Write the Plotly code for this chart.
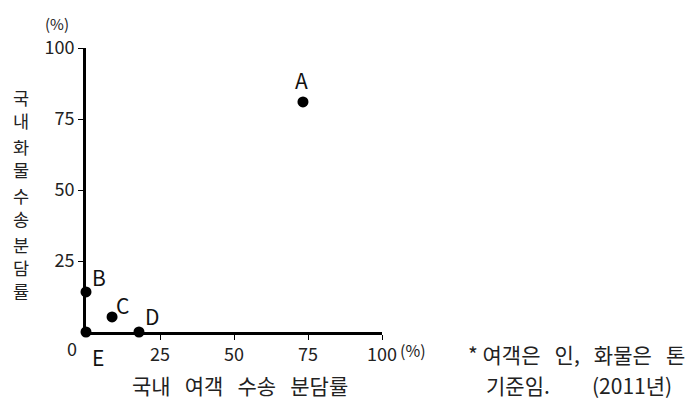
import plotly.graph_objects as go

labels = ["A", "B", "C", "D", "E"]
passenger = [73.3, 0, 8.8, 17.9, 0]
freight = [81, 14.1, 5.3, 0, 0]
tick_vals = [25, 50, 75, 100]
tick_text = ["25", "50", "75", "100"]
y_title_words = ["국내", "화물", "수송", "분담률"]
x_title_words = ["국내", "여객", "수송", "분담률"]
note_line1_words = ["여객은", "인,", "화물은", "톤"]
note_line2a = "기준임."
note_line2b = "(2011년)"

# label offsets in pixels (dx right, dy up)
label_shift = [(-1, 22), (13, 15), (10, 12), (13, 16), (12, -25)]

FONT = "Noto Sans CJK KR"
TXT = "#222"
SP = "\u00a0" * 3

# plot area in page pixels
PL, PR, PT, PB = 86, 382, 48, 332


def px(xp):
    return (xp - PL) / (PR - PL)


def py(yp):
    return (PB - yp) / (PB - PT)


fig = go.Figure()
fig.add_trace(go.Scatter(
    x=passenger, y=freight, mode="markers", cliponaxis=False,
    marker=dict(color="black", size=11),
    showlegend=False, hoverinfo="skip",
))

axis_common = dict(
    showgrid=False, zeroline=False, showline=True, linecolor="black", linewidth=2.6,
    ticks="outside", ticklen=5, tickcolor="black", tickwidth=1.3,
    tickvals=tick_vals, ticktext=tick_text,
    tickfont=dict(family=FONT, size=18, color=TXT),
)
fig.update_xaxes(range=[0, 100], **axis_common)
fig.update_yaxes(range=[0, 100], **axis_common)

ann = []
for lab, xv, yv, (dx, dy) in zip(labels, passenger, freight, label_shift):
    ann.append(dict(x=xv, y=yv, xref="x", yref="y", text=lab, showarrow=False,
                    xanchor="center", yanchor="middle", xshift=dx, yshift=dy,
                    font=dict(family=FONT, size=21, color="#111")))

ann.append(dict(x=px(72), y=py(348), xref="paper", yref="paper", text="0", showarrow=False,
                xanchor="center", yanchor="middle",
                font=dict(family=FONT, size=18, color=TXT)))
ann.append(dict(x=px(413), y=py(350), xref="paper", yref="paper", text="(%)", showarrow=False,
                xanchor="center", yanchor="middle",
                font=dict(family=FONT, size=16, color=TXT)))
ann.append(dict(x=px(57), y=py(24), xref="paper", yref="paper", text="(%)", showarrow=False,
                xanchor="center", yanchor="middle",
                font=dict(family=FONT, size=15, color=TXT)))
# vertical y title: one stacked annotation per word
word_centers = [109, 157.5, 207, 267]
for w, yc in zip(y_title_words, word_centers):
    ann.append(dict(x=px(21), y=py(yc), xref="paper", yref="paper", text="<br>".join(w),
                    showarrow=False, xanchor="center", yanchor="middle",
                    font=dict(family=FONT, size=17.5, color=TXT)))
ann.append(dict(x=px(130), y=py(385), xref="paper", yref="paper",
                text=SP.join(x_title_words), showarrow=False, xanchor="left", yanchor="middle",
                font=dict(family=FONT, size=21, color=TXT)))
ann.append(dict(x=px(466), y=py(354), xref="paper", yref="paper",
                text="*" + "\u00a0" + SP.join(note_line1_words), showarrow=False,
                xanchor="left", yanchor="middle",
                font=dict(family=FONT, size=21, color=TXT)))
ann.append(dict(x=px(484), y=py(385), xref="paper", yref="paper",
                text=note_line2a, showarrow=False, xanchor="left", yanchor="middle",
                font=dict(family=FONT, size=21, color=TXT)))
ann.append(dict(x=px(590), y=py(385), xref="paper", yref="paper",
                text=note_line2b, showarrow=False, xanchor="left", yanchor="middle",
                font=dict(family=FONT, size=21, color=TXT)))

fig.update_layout(
    width=690, height=397,
    margin=dict(l=78, r=316, t=40, b=73),
    paper_bgcolor="white", plot_bgcolor="white",
    annotations=ann,
)
fig.write_html("out.html")
